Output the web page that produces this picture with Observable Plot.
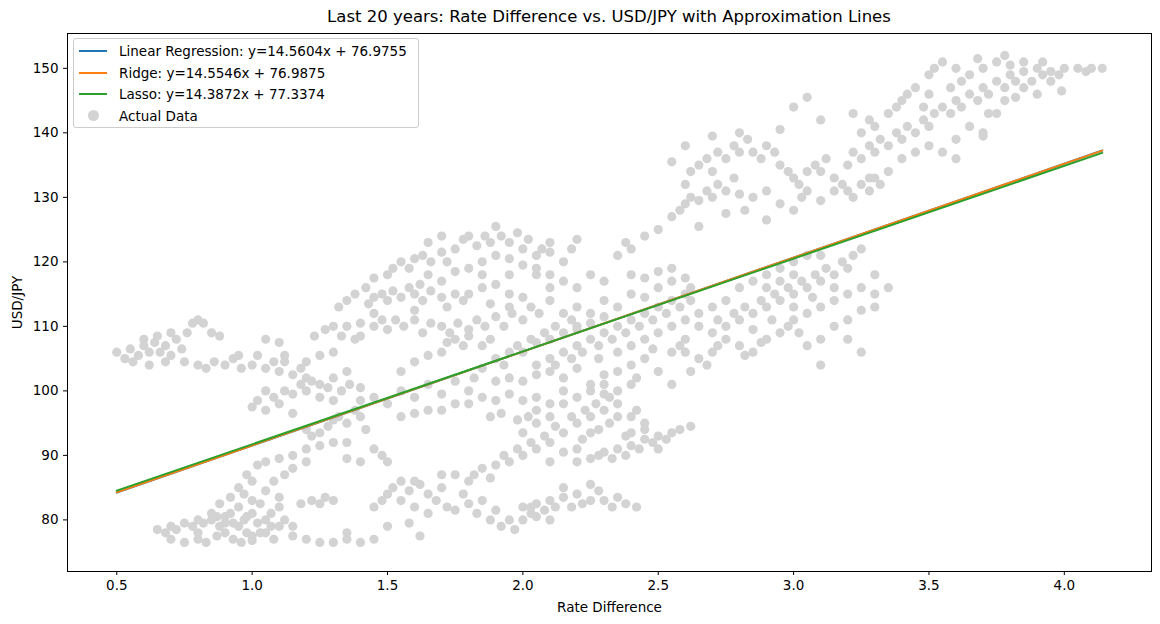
<!DOCTYPE html>
<html><head><meta charset="utf-8">
<script src="https://cdn.jsdelivr.net/npm/d3@7"></script>
<script src="https://cdn.jsdelivr.net/npm/@observablehq/plot@0.6"></script>
<style>
body{margin:0;background:#fff;font-family:"DejaVu Sans",sans-serif;}
#wrap{position:relative;width:1160px;height:624px;}
#title{position:absolute;top:7px;left:67px;width:1084px;text-align:center;font-size:16.5px;color:#000;}
#legend{position:absolute;left:73px;top:38px;width:344px;height:88px;border:1px solid #ccc;border-radius:3px;background:rgba(255,255,255,0.8);font-size:13.5px;}
.row{position:absolute;left:0;height:20px;display:flex;align-items:center;}
.sw{width:28px;height:2px;margin-left:5px;margin-right:12px;}
.dot{width:11px;height:11px;border-radius:50%;background:#d3d3d3;margin-left:14px;margin-right:20px;}
</style></head><body>
<div id="wrap"><div id="title">Last 20 years: Rate Difference vs. USD/JPY with Approximation Lines</div><div id="chart"></div><div id="legend"></div></div>
<script>
const seriesNames = ["Linear Regression", "Ridge", "Lasso"];
const slopes = [14.5604, 14.5546, 14.3872];
const intercepts = [76.9755, 76.9875, 77.3374];
const colors = ["#1f77b4", "#ff7f0e", "#2ca02c"];
const lineX = [0.5, 4.14];
const xTicks = [0.5, 1.0, 1.5, 2.0, 2.5, 3.0, 3.5, 4.0];
const yTicks = [80, 90, 100, 110, 120, 130, 140, 150];
const actualData = `
0.65,78.5 0.68,78 0.7,79 0.72,78.5 0.75,79.5 0.78,79 0.8,78 0.82,79.5 0.85,80 0.87,77.5 0.88,79 0.9,80.5 0.9,78 0.92,81 0.93,77 0.95,79 0.95,82 0.97,80 0.98,78 1.0,81 1.0,77.5 1.02,79.5 1.03,82.5 1.05,80 1.05,78 1.07,81 1.08,77 1.1,79 1.1,82 1.12,80 0.85,81 0.88,82.5 0.92,83.5 0.95,85 0.97,84 1.0,83 0.93,79.5 0.96,76.5 1.0,76.8 0.7,77 0.75,76.5 0.8,77 0.83,76.5 1.15,77.5 1.2,77 1.25,76.5 1.3,76.5 1.35,78 1.15,79 1.18,82.5 1.22,83 1.25,82.5 1.3,83 1.27,83.5 1.1,83.5 1.05,84.5 1.08,86 1.12,87 1.15,88 1.02,88.5 1.0,86 0.98,87 1.4,76.5 1.45,77 1.35,77 0.98,80.5 1.03,78 1.07,79 0.9,79.5 0.87,80.5 0.8,80
0.5,106 0.53,105 0.55,106.5 0.58,105.5 0.6,107 0.62,106 0.64,107.5 0.66,106 0.68,107 0.7,105.5 0.72,108 0.74,106.5 0.76,109 0.78,110.5 0.8,111 0.82,110.5 0.85,109 0.88,108.5 0.7,109 0.68,104.5 0.75,104.5 0.8,104 0.83,103.5 0.86,104.5 0.9,104 0.93,105 0.96,103.5 1.0,104 1.02,105.5 1.05,103.5 1.08,104.5 1.1,103 1.12,104.5 1.15,102.5 1.18,103.5 1.2,102 1.25,101 1.1,107.5 1.05,108 1.12,105.5 0.95,105.5 0.62,104 0.56,104.5 0.6,108 0.65,108.5
1.0,97.5 1.02,98.5 1.05,97 1.08,99 1.1,98 1.12,100 1.15,99.5 1.18,101 1.2,100 1.22,101.5 1.25,99 1.28,100.5 1.3,98.5 1.33,100 1.36,101 1.4,100.5 1.05,100 1.15,96.5 1.2,94 1.22,93 1.25,93.5 1.28,94.5 1.3,95.5 1.32,96 1.35,95 1.38,97 1.4,96 1.42,94 1.25,91.5 1.2,91 1.3,92 1.35,92 1.15,90 1.1,89.5 1.05,89 1.2,89 1.45,91 1.5,89 1.48,90 1.4,89 1.35,89.5 1.4,98.5 1.45,99 1.3,102 1.35,103 1.2,104.5 1.25,105.5 1.3,106 1.23,108.5 1.27,109.5 1.3,110 1.35,110 1.4,110.5 1.33,108.5 1.38,108 1.32,113 1.43,113.5 1.45,112
1.45,114.5 1.48,115 1.5,114 1.52,115.5 1.55,114.5 1.58,116 1.6,115 1.63,114 1.66,115.5 1.7,114.5 1.72,113 1.75,115 1.78,114 1.8,115 1.45,110 1.48,111 1.5,109.5 1.53,111 1.56,110 1.6,111 1.63,109 1.66,110.5 1.7,110 1.73,109 1.76,110.5 1.8,109.5 1.83,111 1.86,110 1.9,111.5 1.93,110 1.96,112 2.0,111 2.03,113 2.06,112 2.1,114 2.0,114.5 1.95,115 1.9,116.5 1.85,116 1.88,113.5 1.95,113 1.5,118 1.52,119 1.55,120 1.58,119 1.6,120.5 1.63,121 1.66,120 1.7,121.5 1.72,120 1.75,122 1.78,123.5 1.8,124 1.83,122.5 1.86,124 1.88,123 1.9,125.5 1.92,124 1.95,123 1.98,124.5 2.0,122 2.02,123.5 2.05,121 2.07,122 2.1,121.5 1.75,118.5 1.8,119 1.85,120 1.9,121 1.95,120.5 2.0,119.5 1.7,117 1.65,118 1.62,116.5 1.45,117.5 1.42,116 1.35,114 1.38,115 1.6,112.5 1.4,108.5 1.65,123 1.7,124 1.85,118 1.95,118 2.05,119 2.1,118
1.55,100 1.6,99 1.65,101 1.7,99.5 1.75,101.5 1.8,100 1.82,102 1.85,103.5 1.9,105 1.93,104 1.95,106 1.98,107 2.0,106 2.03,108 2.05,107.5 2.08,109 2.1,108 2.12,110 2.15,109 2.18,111 2.2,110 1.7,106 1.72,107.5 1.75,108 1.78,107 1.8,108.5 1.85,107 1.88,108 1.6,104.5 1.65,105.5 1.55,103 1.5,98 1.6,96.5 1.65,97 1.55,96 1.7,97 1.75,98 1.8,98 1.85,99 1.9,98.5 1.95,99.5 2.0,98.5 2.05,99 2.1,98 2.15,100 2.0,101.5 2.05,102.5 2.1,103 2.15,102 2.2,103.5 1.9,101.5 1.95,102 1.88,96 1.92,96.5 1.98,95.5 2.02,96 2.05,97
1.5,84 1.52,85 1.55,83 1.58,84.5 1.6,82 1.62,85.5 1.65,81 1.68,83 1.7,85 1.72,82 1.75,81.5 1.78,84 1.8,82.5 1.83,81 1.85,83 1.88,80 1.9,81.5 1.92,79 1.95,80 1.97,78.5 2.0,80 2.03,82 1.55,86 1.6,86 1.65,84 1.7,87 1.75,87 1.8,86 1.58,79.5 1.5,79 1.45,82 1.48,83 1.62,77.5
1.82,87 1.85,88 1.88,86.5 1.9,88.5 1.93,90 1.95,89 1.98,91 2.0,90 2.03,92 2.05,91 2.08,93 2.1,92 2.12,94.5 2.15,93.5 2.18,96 2.2,95 2.23,97 2.25,96 2.27,98 2.3,97 2.32,99 2.35,98 2.0,93.5 2.05,95 2.1,96 2.15,98 2.2,99 2.25,100 2.3,101 2.1,89 2.15,90.5 2.2,91 2.22,92.5 2.25,93.5 2.28,94 2.32,95 2.35,96 2.38,93 2.4,96 2.45,95 2.42,97
2.0,82 2.03,81 2.05,82.5 2.08,81.5 2.1,83 2.12,82 2.15,83.5 2.18,82 2.2,84 2.22,82.5 2.25,83 2.28,84.5 2.3,83 2.33,82 2.35,83.5 2.38,82.5 2.42,82 2.25,85.5 2.15,85 2.1,80 2.05,80.5
2.2,89 2.25,89.5 2.28,90 2.3,90.5 2.33,89.5 2.35,91 2.38,90 2.4,91.5 2.43,91 2.45,92.5 2.48,92 2.5,93 2.53,92.5 2.55,93.5 2.58,94 2.62,94.5 2.45,94 2.4,93.5 2.5,91
2.05,104 2.1,105 2.12,104 2.15,106 2.18,105 2.2,107 2.22,106 2.25,108 2.28,107 2.3,109 2.33,108 2.35,110 2.38,109 2.4,111 2.43,110 2.45,112 2.48,111 2.5,113 2.53,112 2.55,114 2.58,113 2.6,115 2.62,116 2.15,112 2.2,113 2.25,112 2.3,114 2.35,113 2.4,115 2.45,114.5 2.5,116 2.55,117 2.6,117.5 2.2,109.5 2.25,110.5 2.3,111.5 2.28,105 2.35,106 2.4,107 2.45,108 2.5,109 2.55,110 2.6,111 2.25,101 2.3,102.5 2.35,103 2.4,104 2.45,105 2.3,99.5 2.35,100 2.4,101 2.42,102 2.5,103 2.55,101 2.55,106 2.6,108 2.48,106.5 2.15,117 2.25,118 2.3,117 2.1,116 2.2,116 2.35,121 2.4,122 2.4,118 2.45,117.5 2.5,118.5 2.55,119 2.15,120 2.18,122 2.2,123.5 2.1,123 2.05,118
2.65,110 2.7,109 2.72,111 2.75,110 2.78,112 2.8,111 2.82,113 2.85,112 2.88,114 2.9,113 2.93,115 2.95,114 2.98,116 3.0,115 3.03,117 3.05,116 3.08,118 3.1,117 3.12,119 3.15,118 3.18,120 3.2,119 3.22,121 3.25,122 2.7,106 2.72,107 2.75,108 2.8,107 2.82,105.5 2.85,106 2.88,107.5 2.9,108 2.95,109 2.98,110 3.0,111 3.05,112 3.1,113 3.15,114 3.2,115 3.25,116 3.3,115 3.35,116 2.65,105 2.68,104 2.6,106 2.85,117 2.9,118 2.95,119 3.0,120 3.05,121 3.1,121 3.0,118 2.95,117 2.9,116 2.8,116 2.75,114 2.7,113 2.65,112 2.62,114 2.58,107 2.62,103 3.02,109 3.05,107 3.1,108 3.15,110 3.2,111 3.25,112.5 3.3,113 3.1,104 3.25,106 3.2,108 3.0,113 2.85,109.5 2.92,111 3.07,114.5 3.15,116 3.3,118
2.5,125 2.55,127 2.58,128 2.6,129 2.62,130 2.65,129.5 2.68,131 2.7,130 2.72,132 2.75,131 2.78,133 2.6,132 2.62,134 2.65,135 2.68,136 2.7,134 2.72,137 2.75,136 2.78,138 2.8,137 2.83,139 2.85,137 2.88,136 2.9,138 2.93,137 2.95,135 2.98,134 3.0,133 3.02,132 3.05,134 3.08,135 3.1,134 3.12,136 3.15,133 3.18,132 3.2,131 3.22,130 3.25,132 3.28,131 3.3,133 3.32,132 2.85,130 2.9,131 2.95,129 3.0,128 3.03,130 2.8,130.5 2.75,127.5 2.82,128 2.9,126.5 3.05,131 3.1,129.5 3.15,131 2.45,124 2.38,123 2.65,125.5 2.55,135.5 2.6,138 2.7,139.5 3.0,144 3.05,145.5 2.8,140 2.95,140.5 3.1,142
3.2,135 3.22,137 3.25,136 3.28,138 3.3,137 3.32,139 3.35,138 3.38,140 3.4,139 3.42,141 3.45,140 3.48,142 3.5,141 3.52,143 3.55,144 3.58,143 3.6,145 3.62,144 3.65,146 3.68,145 3.7,147 3.72,146 3.75,148 3.78,147 3.8,149 3.82,148 3.85,149.5 3.88,148 3.9,150 3.92,149 3.95,149.5 3.98,149 4.0,150 4.05,150 4.08,149.5 4.1,150 4.14,150 3.3,141 3.35,143 3.4,145 3.42,146 3.45,147 3.5,149 3.52,150 3.55,151 3.6,150 3.62,148 3.65,149 3.68,151.5 3.7,150 3.75,151 3.8,150.5 3.85,151 3.58,147 3.5,146 3.4,136 3.45,137 3.5,138 3.55,137 3.6,139 3.65,141 3.7,140 3.72,143 3.35,134 3.28,133 3.6,136 3.75,143 3.78,145 3.82,145.5 3.9,146 3.95,148 3.99,146.5 3.7,139.5 3.48,144 3.38,144 3.25,140 3.22,143 3.28,142 3.85,147 3.92,151 3.78,152
`;
const points = actualData.trim().split(/\s+/).map(s => { const [x, y] = s.split(",").map(Number); return {x, y}; });
const lines = [];
seriesNames.forEach((n, i) => lineX.forEach(x => lines.push({series: n, x, y: slopes[i] * x + intercepts[i]})));

const chart = Plot.plot({
  width: 1160, height: 624,
  marginLeft: 67, marginRight: 9, marginTop: 33, marginBottom: 53,
  style: {fontFamily: "DejaVu Sans, sans-serif", fontSize: "13.5px", color: "#000", background: "#fff"},
  x: {domain: [0.318, 4.322], ticks: xTicks, tickFormat: d3.format(".1f"), label: "Rate Difference", labelAnchor: "center", labelArrow: "none", labelOffset: 40, tickSize: 4},
  y: {domain: [72.0, 155.4], ticks: yTicks, label: "USD/JPY", labelAnchor: "center", labelArrow: "none", labelOffset: 55, tickSize: 4},
  color: {domain: seriesNames, range: colors},
  marks: [
    Plot.dot(points, {x: "x", y: "y", r: 4.6, fill: "#d3d3d3", stroke: "none"}),
    Plot.line(lines, {x: "x", y: "y", z: "series", stroke: "series", strokeWidth: 2}),
    Plot.frame({stroke: "#000", strokeWidth: 1})
  ]
});
document.getElementById("chart").appendChild(chart);

const leg = document.getElementById("legend");
seriesNames.forEach((n, i) => {
  const r = document.createElement("div"); r.className = "row"; r.style.top = (2 + i * 21.5) + "px";
  r.innerHTML = `<div class="sw" style="background:${colors[i]}"></div><span>${n}: y=${slopes[i].toFixed(4)}x + ${intercepts[i].toFixed(4)}</span>`;
  leg.appendChild(r);
});
const r = document.createElement("div"); r.className = "row"; r.style.top = (2 + 3 * 21.5) + "px";
r.innerHTML = `<div class="dot"></div><span>Actual Data</span>`;
leg.appendChild(r);
</script></body></html>
